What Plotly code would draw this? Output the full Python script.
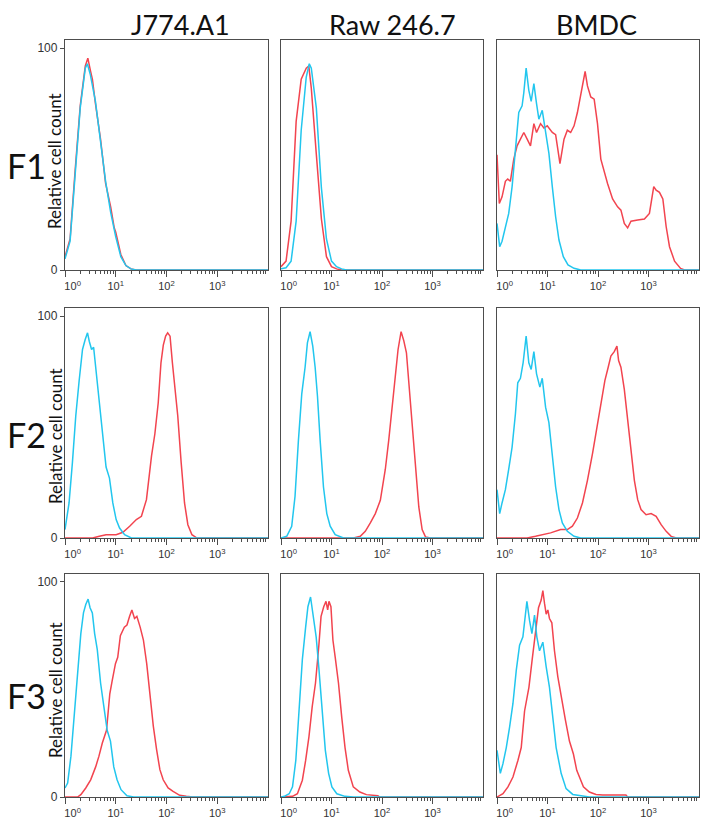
import numpy as np
import plotly.graph_objects as go

# ---------------- data (x given as log10 fluorescence intensity) ----------------
cell_lines = ["J774.A1", "Raw 246.7", "BMDC"]
rows = ["F1", "F2", "F3"]

# Row F1
f1_j774_red_lx = [0, 0.1, 0.2, 0.3, 0.4, 0.45, 0.5, 0.54, 0.6, 0.7, 0.8, 0.9, 0.97, 1.0, 1.1, 1.2, 1.3, 1.4, 4.0]
f1_j774_red_y = [6, 14, 45, 74, 92, 95.5, 90, 86, 75, 59, 39, 28.5, 19, 17, 7, 2, 0.5, 0, 0]
f1_j774_cyan_lx = [0, 0.1, 0.2, 0.3, 0.4, 0.44, 0.5, 0.6, 0.7, 0.8, 0.9, 1.0, 1.1, 1.2, 1.3, 1.4, 4.0]
f1_j774_cyan_y = [5, 13, 43, 73, 91, 93, 88, 76, 58, 40, 26, 15, 6, 2, 0.5, 0, 0]

f1_raw_red_lx = [0, 0.1, 0.2, 0.3, 0.4, 0.5, 0.55, 0.6, 0.7, 0.8, 0.9, 1.0, 1.1, 1.2, 4.0]
f1_raw_red_y = [1.5, 4, 22, 67, 86, 91, 92, 82, 52, 23, 6, 1.5, 0.5, 0, 0]
f1_raw_cyan_lx = [0, 0.1, 0.2, 0.3, 0.4, 0.5, 0.56, 0.6, 0.7, 0.8, 0.9, 1.0, 1.1, 1.2, 1.3, 4.0]
f1_raw_cyan_y = [0.5, 1, 4, 22, 63, 87, 93, 91, 73, 37, 14, 4, 1.5, 0.5, 0, 0]

f1_bmdc_red_lx = [0, 0.046, 0.1, 0.166, 0.212, 0.265, 0.332, 0.398, 0.464, 0.531, 0.597, 0.663, 0.73,
                  0.783, 0.862, 0.929, 0.995, 1.095, 1.161, 1.247, 1.327, 1.393, 1.459, 1.526, 1.592,
                  1.658, 1.745, 1.791, 1.857, 1.924, 1.99, 2.056, 2.123, 2.189, 2.289, 2.388, 2.454,
                  2.521, 2.587, 2.653, 2.786, 2.919, 3.018, 3.104, 3.151, 3.217, 3.284, 3.35, 3.416,
                  3.516, 3.635, 3.714, 4.0]
f1_bmdc_red_y = [52, 30, 33, 40, 41, 40, 50, 56, 59, 62, 59, 56, 66,
                 62, 66, 64, 65, 62, 61, 48, 59, 63, 62, 65, 71,
                 79, 89.5, 83, 78, 77, 66, 50, 44, 39, 32, 28.5, 27,
                 21, 19, 22, 22.5, 23, 25.5, 37.6, 36, 35, 32, 19.5, 10.5,
                 4, 0.7, 0, 0]
f1_bmdc_cyan_lx = [0, 0.053, 0.1, 0.166, 0.232, 0.299, 0.365, 0.431, 0.497, 0.531, 0.577, 0.63, 0.677,
                   0.73, 0.783, 0.829, 0.896, 0.962, 1.028, 1.095, 1.161, 1.227, 1.313, 1.406, 1.526,
                   1.658, 4.0]
f1_bmdc_cyan_y = [21, 10.5, 13, 19.5, 25.5, 37.6, 56, 71, 74, 80, 91, 81, 76,
                  84, 75, 68, 72, 63, 52.6, 37.6, 24, 13.5, 6, 2.3, 0.75,
                  0, 0]

# Row F2
f2_j774_cyan_lx = [0, 0.08, 0.146, 0.212, 0.279, 0.345, 0.398, 0.444, 0.478, 0.524, 0.564, 0.61, 0.677,
                   0.743, 0.809, 0.876, 0.942, 1.008, 1.075, 1.174, 1.307, 4.0]
f2_j774_cyan_y = [3.8, 15.8, 34, 55, 71, 85, 89.5, 92.5, 88.7, 85, 86, 76, 61,
                  46, 32, 27, 15.8, 8.3, 4.5, 1.5, 0, 0]
f2_j774_red_lx = [0, 0.544, 0.677, 0.809, 1.008, 1.141, 1.274, 1.406, 1.506, 1.605, 1.705, 1.771, 1.837,
                  1.891, 1.937, 1.983, 2.023, 2.07, 2.116, 2.169, 2.222, 2.289, 2.355, 2.421, 2.501,
                  2.6, 4.0]
f2_j774_red_y = [0, 0, 0.75, 1.5, 1.5, 2.6, 5.3, 8.3, 9.8, 17.3, 37, 47, 61,
                 79, 87, 91, 92.5, 91, 79, 67, 55, 34, 15.8, 6, 1.5,
                 0, 0]

f2_raw_cyan_lx = [0, 0.113, 0.212, 0.278, 0.345, 0.411, 0.477, 0.523, 0.576, 0.629, 0.676, 0.722, 0.775,
                  0.841, 0.907, 0.974, 1.073, 1.238, 4.0]
f2_raw_cyan_y = [0, 0.75, 5.3, 18.8, 44, 65, 77, 88, 93, 86.5, 77, 64, 44,
                 23, 11, 5.3, 1.5, 0, 0]
f2_raw_red_lx = [0, 1.437, 1.57, 1.669, 1.769, 1.868, 1.967, 2.066, 2.133, 2.199, 2.265, 2.318, 2.378,
                 2.431, 2.484, 2.53, 2.597, 2.663, 2.729, 2.795, 2.861, 2.96, 4.0]
f2_raw_red_y = [0, 0, 0.75, 3, 6.8, 11, 17, 31, 44, 59, 76, 85, 93,
                89, 83.5, 71, 53, 32, 14, 3.8, 0.5, 0, 0]

f2_bmdc_cyan_lx = [0, 0.053, 0.1, 0.166, 0.232, 0.299, 0.365, 0.411, 0.464, 0.517, 0.577, 0.63, 0.677,
                   0.73, 0.783, 0.849, 0.896, 0.962, 1.028, 1.095, 1.161, 1.227, 1.294, 1.393, 1.526,
                   1.658, 4.0]
f2_bmdc_cyan_y = [21.8, 11, 15.8, 21.8, 31, 41, 56, 70, 72, 79, 91, 79, 76,
                  84, 74, 68, 72, 59, 52, 37, 23, 12.8, 6.8, 3, 0.75,
                  0, 0]
f2_bmdc_red_lx = [0, 0.597, 0.763, 0.896, 1.061, 1.26, 1.393, 1.493, 1.592, 1.692, 1.791, 1.891, 1.977,
                  2.056, 2.136, 2.202, 2.255, 2.322, 2.375, 2.408, 2.454, 2.521, 2.587, 2.653, 2.72,
                  2.786, 2.852, 2.952, 3.051, 3.151, 3.25, 3.35, 3.449, 3.549, 4.0]
f2_bmdc_red_y = [0, 0, 0.75, 1.5, 2.3, 3.8, 3.8, 5.3, 9, 15.8, 26, 38, 49,
                 61, 71, 77, 82, 84, 86.5, 80, 77, 67, 53, 40, 26,
                 17.3, 12.8, 10.5, 11, 9.8, 6, 3, 0.75, 0, 0]

# Row F3
f3_j774_cyan_lx = [0, 0.052, 0.117, 0.182, 0.247, 0.312, 0.364, 0.409, 0.455, 0.494, 0.539, 0.584, 0.636,
                   0.701, 0.766, 0.831, 0.896, 0.961, 1.026, 1.104, 1.221, 1.351, 4.0]
f3_j774_cyan_y = [4.2, 6.5, 19, 37.5, 59, 76, 85.6, 89.5, 92, 88, 85.6, 76, 68.5,
                  53, 42, 31, 26, 14, 8, 3.4, 0.6, 0, 0]
f3_j774_red_lx = [0, 0.247, 0.312, 0.409, 0.506, 0.604, 0.669, 0.734, 0.818, 0.883, 0.929, 0.994, 1.039,
                  1.091, 1.169, 1.221, 1.273, 1.318, 1.37, 1.416, 1.481, 1.545, 1.61, 1.675, 1.74,
                  1.805, 1.87, 1.935, 2.032, 2.13, 2.26, 2.39, 2.52, 4.0]
f3_j774_red_y = [0, 0, 1.1, 4.2, 8, 14, 19, 25, 31, 48, 54, 62, 65,
                 75, 79, 80, 84, 87, 83, 84, 79, 73, 62, 47, 33,
                 22, 12.7, 8, 4.2, 2.6, 0.8, 0.3, 0, 0]

f3_raw_cyan_lx = [0, 0.065, 0.163, 0.228, 0.293, 0.358, 0.423, 0.488, 0.533, 0.585, 0.637, 0.696, 0.748,
                  0.813, 0.878, 0.943, 1.008, 1.106, 1.268, 1.431, 4.0]
f3_raw_cyan_y = [0, 0.3, 1.5, 4.7, 17, 40, 64, 79, 88.5, 93, 85, 74.5, 60.5,
                 40, 21.7, 11, 4.7, 1.5, 0.3, 0, 0]
f3_raw_red_lx = [0, 0.065, 0.228, 0.325, 0.423, 0.488, 0.553, 0.618, 0.683, 0.748, 0.793, 0.846, 0.891,
                 0.924, 0.95, 0.989, 1.028, 1.073, 1.138, 1.203, 1.268, 1.333, 1.431, 1.561, 1.691,
                 1.919, 1.951, 4.0]
f3_raw_red_y = [0, 0, 0.3, 1.5, 7.8, 17, 28, 42, 53, 70, 84, 88.5, 91,
                87, 91, 88.5, 73, 65, 53, 37, 23, 12.4, 4.7, 2.3, 1.1,
                0.6, 0, 0]

f3_bmdc_cyan_lx = [0, 0.066, 0.118, 0.184, 0.25, 0.316, 0.382, 0.447, 0.513, 0.592, 0.645, 0.691, 0.743,
                   0.789, 0.842, 0.908, 0.974, 1.039, 1.105, 1.171, 1.27, 1.368, 1.5, 1.697, 1.829, 4.0]
f3_bmdc_cyan_y = [21.7, 11, 15.5, 23, 32.6, 43.5, 59, 70.6, 74.5, 91, 82, 76, 84.6,
                  74.5, 68, 72, 60.5, 51, 37, 23, 11, 3.9, 1.2, 0.3, 0, 0]
f3_bmdc_red_lx = [0, 0.118, 0.217, 0.316, 0.414, 0.48, 0.546, 0.632, 0.697, 0.763, 0.822, 0.875, 0.908,
                  0.941, 0.974, 1.007, 1.039, 1.086, 1.138, 1.204, 1.27, 1.355, 1.434, 1.513, 1.579,
                  1.632, 1.711, 1.829, 1.961, 2.092, 2.553, 2.586, 4.0]
f3_bmdc_red_y = [0, 1.5, 4.7, 9.3, 17, 23, 40, 51, 64, 76, 88, 91.6, 96,
                 90, 85, 87, 83, 81, 68, 56, 46.6, 35.7, 26, 20, 12.4,
                 9.3, 4.7, 2.3, 1.2, 0.9, 0.9, 0, 0]

panels = [
    [(f1_j774_red_lx, f1_j774_red_y, f1_j774_cyan_lx, f1_j774_cyan_y),
     (f1_raw_red_lx, f1_raw_red_y, f1_raw_cyan_lx, f1_raw_cyan_y),
     (f1_bmdc_red_lx, f1_bmdc_red_y, f1_bmdc_cyan_lx, f1_bmdc_cyan_y)],
    [(f2_j774_red_lx, f2_j774_red_y, f2_j774_cyan_lx, f2_j774_cyan_y),
     (f2_raw_red_lx, f2_raw_red_y, f2_raw_cyan_lx, f2_raw_cyan_y),
     (f2_bmdc_red_lx, f2_bmdc_red_y, f2_bmdc_cyan_lx, f2_bmdc_cyan_y)],
    [(f3_j774_red_lx, f3_j774_red_y, f3_j774_cyan_lx, f3_j774_cyan_y),
     (f3_raw_red_lx, f3_raw_red_y, f3_raw_cyan_lx, f3_raw_cyan_y),
     (f3_bmdc_red_lx, f3_bmdc_red_y, f3_bmdc_cyan_lx, f3_bmdc_cyan_y)],
]

x_tick_vals = [1, 10, 100, 1000]
x_tick_text = ["\u00a0\u00a0\u00a0\u00a0\u00a010<sup>0</sup>", "10<sup>1</sup>", "10<sup>2</sup>", "10<sup>3</sup>"]
y_tick_vals = [0, 100]
y_tick_text = ["0", "100"]

RED = "#F2444F"
CYAN = "#22C6EE"
FRAME = "#4d4d4d"

# page body adds an 8px margin; the figure is sized so it exactly fills the window
OFF = 8
W, H = 714 - OFF, 833 - OFF
col_px = [(65, 268), (281, 483), (497, 699)]
row_px = [(40, 270), (308, 538), (574, 797)]


def px_x(p):
    return (p - OFF) / W


def px_y(p):
    return 1 - (p - OFF) / H


fig = go.Figure()
minor_vals = [m * 10 ** d for d in range(4) for m in range(2, 10)]

for r in range(3):
    for c in range(3):
        idx = r * 3 + c + 1
        xa = "x" if idx == 1 else f"x{idx}"
        ya = "y" if idx == 1 else f"y{idx}"
        rlx, ry, clx, cy = panels[r][c]
        fig.add_trace(go.Scatter(x=10 ** np.array(rlx), y=ry, mode="lines",
                                 line=dict(color=RED, width=1.5), xaxis=xa, yaxis=ya,
                                 showlegend=False, hoverinfo="skip"))
        fig.add_trace(go.Scatter(x=10 ** np.array(clx), y=cy, mode="lines",
                                 line=dict(color=CYAN, width=1.5), xaxis=xa, yaxis=ya,
                                 showlegend=False, hoverinfo="skip"))
        x0, x1 = col_px[c]
        y0, y1 = row_px[r]
        xkey = "xaxis" if idx == 1 else f"xaxis{idx}"
        ykey = "yaxis" if idx == 1 else f"yaxis{idx}"
        fig.layout[xkey] = dict(
            type="log", range=[0, 4], domain=[px_x(x0), px_x(x1)], anchor=ya, automargin=False,
            showline=True, mirror=True, linecolor=FRAME, linewidth=1.3,
            showgrid=False, zeroline=False,
            tickmode="array", tickvals=x_tick_vals, ticktext=x_tick_text,
            ticks="outside", ticklen=6, tickwidth=1, tickcolor=FRAME,
            tickfont=dict(family="Liberation Sans, Arial", size=11, color="#333"),
            minor=dict(tickmode="array", tickvals=minor_vals, ticks="outside", ticklen=3,
                       tickwidth=1, tickcolor=FRAME, showgrid=False),
        )
        ycfg = dict(
            range=[0, 103.7], domain=[px_y(y1), px_y(y0)], anchor=xa, automargin=False,
            showline=True, mirror=True, linecolor=FRAME, linewidth=1.3,
            showgrid=False, zeroline=False,
        )
        if c == 0:
            ycfg.update(tickmode="array", tickvals=y_tick_vals, ticktext=y_tick_text,
                        ticks="outside", ticklen=4, tickcolor=FRAME,
                        tickfont=dict(family="Liberation Sans, Arial", size=12, color="#333"))
        else:
            ycfg.update(showticklabels=False, ticks="")
        fig.layout[ykey] = ycfg

annotations = []
title_x = [180, 392, 596]
for c, name in enumerate(cell_lines):
    annotations.append(dict(text=name, x=px_x(title_x[c]), y=px_y(24), xref="paper", yref="paper",
                            showarrow=False, xanchor="center", yanchor="middle",
                            font=dict(family="Lato, Open Sans, sans-serif", size=27, color="#111")))
row_label_y = [165, 434, 695]
ylabel_y = [161, 436, 690]
for r, name in enumerate(rows):
    annotations.append(dict(text=name, x=px_x(26), y=px_y(row_label_y[r]), xref="paper", yref="paper",
                            showarrow=False, xanchor="center", yanchor="middle",
                            font=dict(family="Lato, Open Sans, sans-serif", size=34, color="#111")))
    annotations.append(dict(text="Relative cell count", x=px_x(55), y=px_y(ylabel_y[r]),
                            xref="paper", yref="paper", textangle=-90,
                            showarrow=False, xanchor="center", yanchor="middle",
                            font=dict(family="Lato, Open Sans, sans-serif", size=17, color="#111")))

fig.update_layout(width=W, height=H, margin=dict(l=0, r=0, t=0, b=0),
                  paper_bgcolor="white", plot_bgcolor="white", annotations=annotations)

fig.write_html("out.html")
